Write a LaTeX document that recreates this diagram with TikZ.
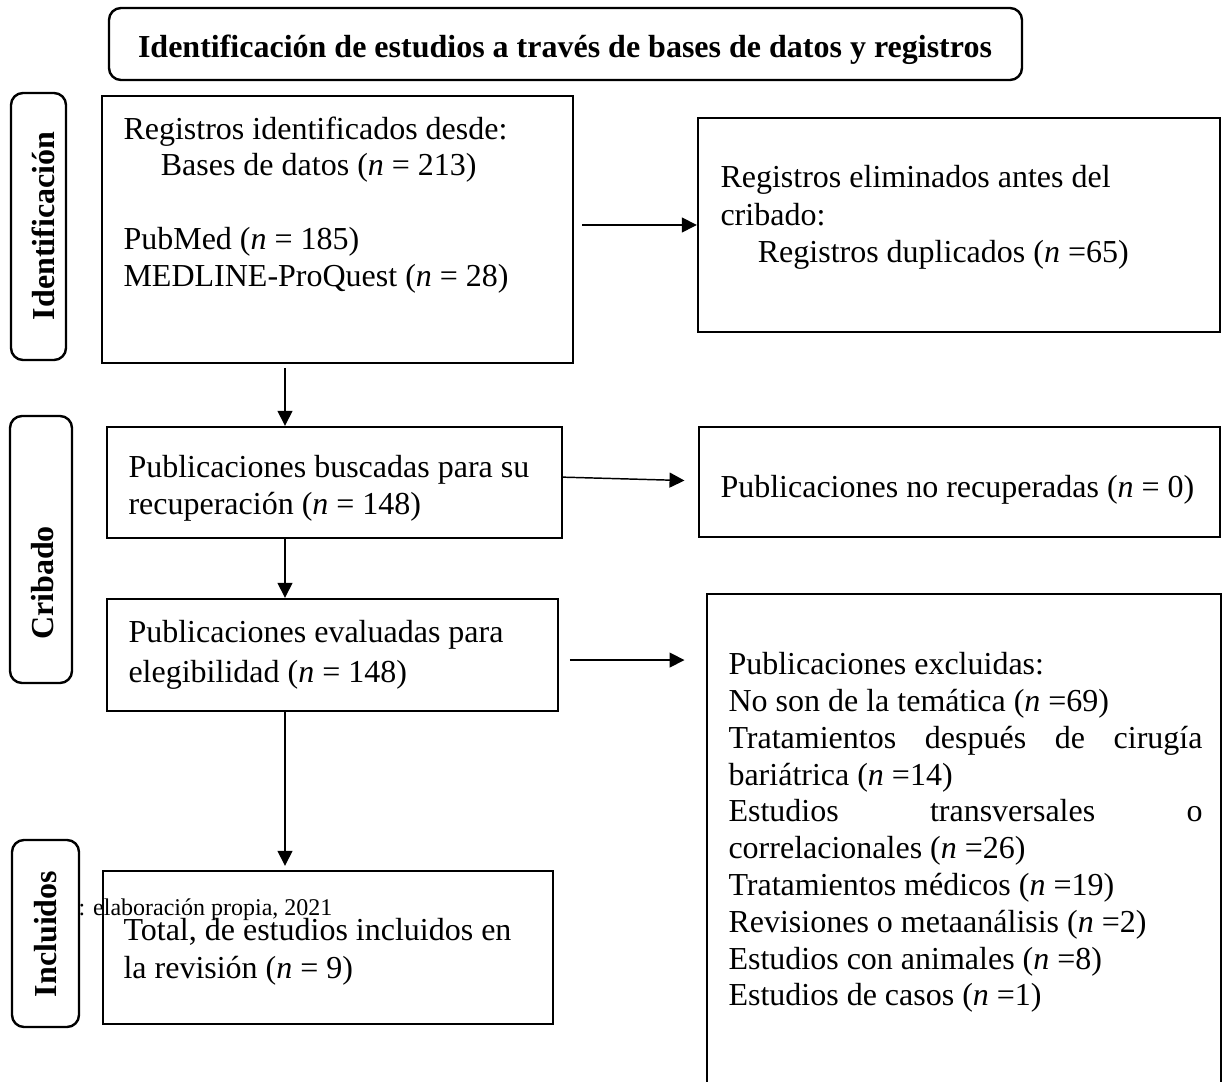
\documentclass[tikz,border=0pt]{standalone}
\usepackage{fontspec}
\setmainfont{Liberation Serif}
\usetikzlibrary{arrows.meta, fit}

\tikzset{
  box/.style={draw, line width=0.9pt, inner sep=0pt},
  sidebox/.style={box, rounded corners=4.5pt},
  txt/.style={anchor=north west, inner sep=0pt, align=left, font=\fontsize{12}{13.8}\selectfont},
  sidelab/.style={rotate=90, anchor=base, inner sep=0pt, font=\fontsize{12}{14}\selectfont\bfseries},
  arr/.style={-{Triangle[length=5.6pt, width=5.6pt]}, line width=0.55pt}
}

\begin{document}
\begin{tikzpicture}[x=0.375pt, y=-0.375pt]

\useasboundingbox (0,0) rectangle (1224,1082);

\node [sidebox, fit={(109,8) (1022,80)}] (titulo) {};
\node [anchor=base, inner sep=0pt, font=\fontsize{12}{14}\selectfont\bfseries] (titulotxt) at (565,58)
	{Identificación de estudios a través de bases de datos y registros};

% etapas
\node [sidebox, fit={(11,93) (66,360)}] (identificacion) {};
\node [sidelab] (identificaciontxt) at (55,226) {Identificación};
\node [sidebox, fit={(10,416) (72,683)}] (cribado) {};
\node [sidelab] (cribadotxt) at (53,583) {Cribado};
\node [sidebox, fit={(12,840) (79,1027)}] (incluidos) {};
\node [sidelab] (incluidostxt) at (56,934) {Incluidos};

% cajas
\node [box, fit={(102,96) (573,363)}] (registros) {};
\node [txt] (registrostxt) at (123,116) {
	Registros identificados desde:\\
	\hspace*{14pt}Bases de datos (\textit{n} = 213)\\
	~\\
	PubMed (\textit{n} = 185)\\
	MEDLINE-ProQuest (\textit{n} = 28)
};

\node [box, fit={(698,118) (1220,332)}] (eliminados) {};
\node [txt, font=\fontsize{12}{14.1}\selectfont] (eliminadostxt) at (720,165) {
	Registros eliminados antes del\\
	cribado:\\
	\hspace*{14pt}Registros duplicados (\textit{n} =65)
};

\node [box, fit={(107,427) (562,538)}] (buscadas) {};
\node [txt] (buscadastxt) at (128,455) {
	Publicaciones buscadas para su\\
	recuperación (\textit{n} = 148)
};

\node [box, fit={(699,427) (1220,537)}] (norecup) {};
\node [txt] (norecuptxt) at (720,475) {Publicaciones no recuperadas (\textit{n} = 0)};

\node [box, fit={(107,599) (558,711)}] (evaluadas) {};
\node [txt, font=\fontsize{12}{15}\selectfont] (evaluadastxt) at (128,620) {
	Publicaciones evaluadas para\\
	elegibilidad (\textit{n} = 148)
};

\node [box, fit={(707,594) (1221,1090)}] (excluidas) {};
\node [txt, align=flush left, text width=177.75pt] (excluidastxt) at (728,652) {
	Publicaciones excluidas:\\
	No son de la temática (\textit{n} =69)\\
	Tratamientos \hfill después \hfill de \hfill cirugía\\
	bariátrica (\textit{n} =14)\\
	Estudios \hfill transversales \hfill o\\
	correlacionales (\textit{n} =26)\\
	Tratamientos médicos (\textit{n} =19)\\
	Revisiones o metaanálisis (\textit{n} =2)\\
	Estudios con animales (\textit{n} =8)\\
	Estudios de casos (\textit{n} =1)
};

\node [box, fit={(103,871) (553,1024)}] (total) {};
\node [txt, font=\fontsize{12}{14.2}\selectfont] (totaltxt) at (123,918) {
	Total, de estudios incluidos en\\
	la revisión (\textit{n} = 9)
};

\node [anchor=base west, inner sep=0pt, font=\fontsize{9}{10}\selectfont] (fuente) at (78,916)
	{: elaboración propia, 2021};

% flechas
\coordinate (col) at (285,0);
\draw [arr, shorten <=3pt] (registros.east |- eliminados.west) -- (eliminados.west);
\draw [arr, shorten <=1.5pt] (registros.south -| col) -- (buscadas.north -| col);
\draw [arr, shorten >=5pt] ([yshift=2pt]buscadas.east) -- ([yshift=0.4pt]norecup.west);
\draw [arr] (buscadas.south -| col) -- (evaluadas.north -| col);
\draw [arr, shorten <=4pt, shorten >=8pt] ([yshift=-1.9pt]evaluadas.east) -- ([yshift=-1.9pt]evaluadas.east -| excluidas.west);
\draw [arr, shorten >=1.5pt] (evaluadas.south -| col) -- (total.north -| col);

\end{tikzpicture}
\end{document}
